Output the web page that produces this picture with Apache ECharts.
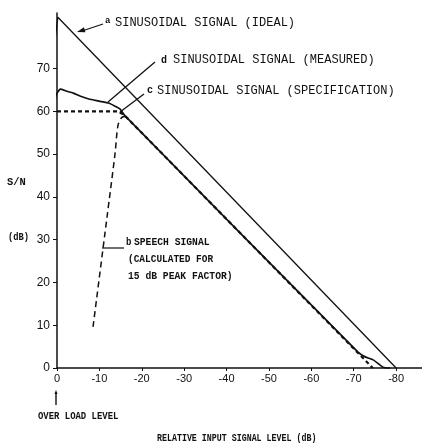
<!DOCTYPE html>
<html>
<head>
<meta charset="utf-8">
<script src="https://cdn.jsdelivr.net/npm/echarts@6/dist/echarts.min.js"></script>
<style>
html,body{margin:0;padding:0;background:#fff;}
#c{width:422px;height:448px;}
</style>
</head>
<body>
<div id="c"></div>
<script>
// ---- data (x: relative input signal level in dB, y: S/N in dB) ----
const xTicks = [0, -10, -20, -30, -40, -50, -60, -70, -80];
const yTicks = [0, 10, 20, 30, 40, 50, 60, 70];

const idealX = [1.2, -0.2, -80];
const idealY = [70.8, 82, 0];

const measuredX = [0.5, 0.5, 0.3, -0.8, -2.3, -4.0, -5.4, -7.5, -9.9, -12.3, -13.7, -14.9, -16.0, -71.0, -72.7, -74.6, -76.9, -78.6];
const measuredY = [45, 60, 63.5, 65.2, 64.7, 64.2, 63.6, 62.9, 62.4, 61.9, 61.2, 60.5, 59.0, 3.7, 2.6, 1.9, 0.2, 0];

const specX = [0, -14.5, -16.0, -74.5];
const specY = [60, 60, 59.0, 0];

const speechX = [-8.5, -11.8, -13.7, -14.4, -15.3, -16.3];
const speechY = [9.6, 35.3, 50.2, 56.8, 58.6, 58.8];

const labels = {
  a: 'SINUSOIDAL SIGNAL (IDEAL)',
  d: 'SINUSOIDAL SIGNAL (MEASURED)',
  c: 'SINUSOIDAL SIGNAL (SPECIFICATION)',
  b1: 'SPEECH SIGNAL',
  b2: '(CALCULATED FOR',
  b3: '15 dB PEAK FACTOR)'
};

const zip = (xs, ys) => xs.map((x, i) => [x, ys[i]]);

const INK = '#111';
const MONO = '"Liberation Mono", "DejaVu Sans Mono", monospace';
const SANS = '"Liberation Sans", Arial, sans-serif';

// text with optional horizontal squeeze (typewriter look)
function txt(x, y, s, size, sx, weight) {
  return {
    type: 'text', x: x, y: y, scaleX: sx || 1, originX: 0, originY: 0,
    style: { text: s, fill: INK, font: (weight || 'normal') + ' ' + size + 'px ' + MONO,
             textVerticalAlign: 'middle', textAlign: 'left' }
  };
}
function seg(x1, y1, x2, y2, w) {
  return { type: 'line', shape: { x1, y1, x2, y2 }, style: { stroke: INK, lineWidth: w || 1.2 } };
}
function arrowHead(x1, y1, x2, y2, len, half) {
  const dx = x2 - x1, dy = y2 - y1, L = Math.hypot(dx, dy);
  const ux = dx / L, uy = dy / L;
  const bx = x2 - ux * len, by = y2 - uy * len;
  return { type: 'polygon', shape: { points: [[x2, y2], [bx - uy * half, by + ux * half], [bx + uy * half, by - ux * half]] }, style: { fill: INK } };
}

const chart = echarts.init(document.getElementById('c'), null, { renderer: 'canvas' });

const option = {
  animation: false,
  backgroundColor: '#fff',
  grid: { left: 57, right: 0, top: 13, bottom: 80, containLabel: false },
  xAxis: {
    type: 'value', inverse: true, min: -86.1, max: 0,
    axisLine: { onZero: false, lineStyle: { color: INK, width: 1.5 } },
    axisTick: { show: true, length: 3, customValues: xTicks, lineStyle: { color: INK, width: 1 } },
    axisLabel: { customValues: xTicks, color: INK, fontFamily: SANS, fontSize: 11, margin: 5,
                 formatter: v => (v === 0 ? '0' : '-' + Math.abs(v)) },
    splitLine: { show: false }
  },
  yAxis: {
    type: 'value', min: 0, max: 83,
    axisLine: { show: true, onZero: false, lineStyle: { color: INK, width: 1.5 } },
    axisTick: { show: true, length: 4, customValues: yTicks, lineStyle: { color: INK, width: 1 } },
    axisLabel: { customValues: yTicks, color: INK, fontFamily: SANS, fontSize: 12, margin: 7 },
    splitLine: { show: false }
  },
  series: [
    { name: 'a', type: 'line', data: zip(idealX, idealY), symbol: 'none', clip: false,
      lineStyle: { color: INK, width: 1.3 } },
    { name: 'c', type: 'line', data: zip(specX, specY), symbol: 'none', clip: false,
      lineStyle: { color: INK, width: 2.2, type: [4, 3] } },
    { name: 'd', type: 'line', data: zip(measuredX, measuredY), symbol: 'none', clip: false, smooth: 0.2,
      lineStyle: { color: INK, width: 1.7 } },
    { name: 'b', type: 'line', data: zip(speechX, speechY), symbol: 'none', clip: false, smooth: 0.3,
      lineStyle: { color: INK, width: 1.5, type: [6, 4] } }
  ],
  graphic: [
    // a: ideal
    txt(105, 21, 'a', 9, 1, 'bold'),
    txt(115, 23, labels.a, 12),
    seg(103, 24, 82, 31, 1.2),
    arrowHead(103, 24, 77, 32, 8, 2.6),
    // d: measured
    txt(161, 60, 'd', 10, 1, 'bold'),
    txt(173, 60, labels.d, 12),
    seg(155, 62, 108, 102, 1.3),
    // c: specification
    txt(147, 90, 'c', 10, 1, 'bold'),
    txt(157, 91, labels.c, 12),
    seg(144, 94, 120, 112, 1.3),
    // b: speech
    txt(126, 242, 'b', 10, 0.9, 'bold'),
    txt(134, 242, labels.b1, 11, 0.88, 'bold'),
    txt(128, 259, labels.b2, 11, 0.86, 'bold'),
    txt(128, 276, labels.b3, 11, 0.88, 'bold'),
    seg(102, 248, 124, 248, 1.2),
    // axis titles
    txt(7, 182, 'S/N', 11, 0.95, 'bold'),
    txt(8, 237, '(dB)', 10, 0.88, 'bold'),
    // overload marker
    seg(56, 392, 56, 405, 1.4),
    arrowHead(56, 405, 56, 390, 4, 1.5),
    txt(38, 416, 'OVER LOAD LEVEL', 10.5, 0.85, 'bold'),
    txt(157, 438, 'RELATIVE INPUT SIGNAL LEVEL (dB)', 10, 0.83, 'bold')
  ]
};
chart.setOption(option);
</script>
</body>
</html>
